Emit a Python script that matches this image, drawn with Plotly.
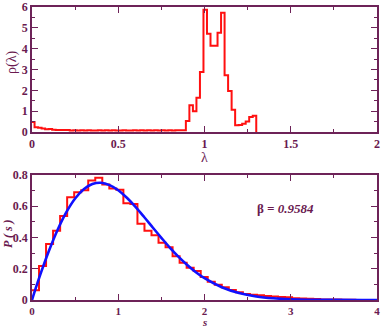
import numpy as np
import plotly.graph_objects as go

# ---------------- data ----------------
# top panel: density of eigenvalues rho(lambda), histogram
lam_first_edge = -0.0056
lam_bin_width = 0.0204
rho_values = [
    0.48, 0.23, 0.21, 0.17, 0.13, 0.14, 0.11, 0.10, 0.10, 0.10,
    0.10, 0.07, 0.09, 0.07, 0.09, 0.07, 0.08, 0.07, 0.07, 0.08,
    0.07, 0.08, 0.07, 0.09, 0.07, 0.07, 0.08, 0.07, 0.07, 0.09,
    0.07, 0.08, 0.07, 0.09, 0.07, 0.08, 0.07, 0.09, 0.07, 0.08,
    0.07, 0.08, 0.08, 0.08,
    0.53, 1.28, 1.00, 1.65, 2.88,
    5.87, 4.72, 4.14, 4.14, 4.77, 5.73, 2.72, 1.97, 1.07,
    0.33, 0.34, 0.40, 0.50, 0.72, 0.78,
]

# bottom panel: nearest-neighbour spacing distribution P(s), histogram
s_bin_width = 0.0815
ps_values = [
    0.062, 0.218, 0.358, 0.443, 0.538, 0.658, 0.690, 0.702, 0.765, 0.782,
    0.740, 0.713, 0.705, 0.620, 0.615, 0.488, 0.444, 0.415, 0.366, 0.337,
    0.280, 0.239, 0.207, 0.186, 0.148, 0.117, 0.097, 0.081, 0.064, 0.050,
    0.039, 0.034, 0.030, 0.025, 0.022, 0.020, 0.018, 0.012, 0.010, 0.008,
    0.006, 0.004, 0.004, 0.003, 0.002, 0.001, 0.0005, 0.0003, 0.0,
]

# Brody fit curve (beta = 0.9584)
fit_s = [0.0, 0.05, 0.1, 0.2, 0.3, 0.4, 0.5, 0.6, 0.7, 0.8, 0.9, 1.0,
         1.1, 1.2, 1.3, 1.4, 1.5, 1.6, 1.7, 1.8, 1.9, 2.0, 2.2, 2.4,
         2.6, 2.8, 3.0, 3.5, 4.0]
fit_p = [0.0, 0.087, 0.169, 0.320, 0.453, 0.564, 0.650, 0.709, 0.742,
         0.750, 0.735, 0.702, 0.654, 0.596, 0.531, 0.464, 0.398, 0.334,
         0.276, 0.224, 0.178, 0.140, 0.082, 0.045, 0.023, 0.011, 0.005,
         0.0006, 0.00004]

beta_label = "0.9584"

# ---------------- styling ----------------
AX = "#6d2358"
TXT = "#6a1a50"
SERIF = "Liberation Serif, Times New Roman, serif"


def step_xy(first_edge, width, values):
    n = len(values)
    edges = first_edge + width * np.arange(n + 1)
    edges = np.clip(edges, 0, None)
    xs = list(edges[:-1]) + [edges[-1], edges[-1]]
    ys = list(values) + [values[-1], 0.0]
    return xs, ys


fig = go.Figure()

lx, ly = step_xy(lam_first_edge, lam_bin_width, rho_values)
fig.add_trace(go.Scatter(x=lx, y=ly, mode="lines", line=dict(color="#ff1010", width=2, shape="hv"),
                         xaxis="x", yaxis="y", showlegend=False, hoverinfo="skip"))

sx, sy = step_xy(0.0, s_bin_width, ps_values)
fig.add_trace(go.Scatter(x=sx, y=sy, mode="lines", line=dict(color="#ff1010", width=2, shape="hv"),
                         xaxis="x2", yaxis="y2", showlegend=False, hoverinfo="skip"))

fig.add_trace(go.Scatter(x=fit_s, y=fit_p, mode="lines", line=dict(color="#1010ff", width=2.6, shape="spline"),
                         xaxis="x2", yaxis="y2", showlegend=False, hoverinfo="skip"))


def axis(rng, dtick, minor_dtick, domain, anchor, fsize=12, **kw):
    d = dict(
        range=rng, domain=domain, anchor=anchor, dtick=dtick, tick0=0,
        ticks="inside", ticklen=6, tickwidth=1, tickcolor=AX,
        minor=dict(dtick=minor_dtick, tick0=0, ticks="inside", ticklen=3, tickwidth=1, tickcolor=AX),
        showline=True, linecolor=AX, linewidth=1.6, mirror="allticks",
        showgrid=False, zeroline=False, automargin=False, ticklabeloverflow="allow",
        tickfont=dict(family=SERIF, size=fsize, color=TXT, weight="bold"),
    )
    d.update(kw)
    return d


top_dom = [(300 - 132) / 293, 1.0]
bot_dom = [0.0, (300 - 175) / 293]

fig.update_layout(
    width=382, height=327,
    margin=dict(l=32, r=5, t=7, b=27),
    paper_bgcolor="white", plot_bgcolor="white",
    xaxis=axis([0, 2], 0.5, 0.25, [0, 1], "y", tickvals=[0, 0.5, 1, 1.5, 2], ticktext=["0", "0.5", "1", "1.5", "2"]),
    yaxis=axis([0, 6], 1, 0.5, top_dom, "x"),
    xaxis2=axis([0, 4], 1, 0.5, [0, 1], "y2", fsize=11),
    yaxis2=axis([0, 0.8], 0.2, 0.1, bot_dom, "x2", tickvals=[0, 0.2, 0.4, 0.6, 0.8], ticktext=["0", "0.2", "0.4", "0.6", "0.8"]),
)


def px_y(p):
    return (300 - p) / 293


def px_x(p):
    return (p - 32) / 345


annotations = [
    dict(text="λ", x=px_x(204), y=px_y(157), xref="paper", yref="paper", showarrow=False,
         font=dict(family=SERIF, size=14, color=TXT), xanchor="center", yanchor="middle"),
    dict(text="ρ(λ)", x=px_x(12), y=px_y(63), xref="paper", yref="paper", showarrow=False, textangle=-90,
         font=dict(family=SERIF, size=14, color=TXT), xanchor="center", yanchor="middle"),
    dict(text="<b><i>s</i></b>", x=px_x(204), y=px_y(322), xref="paper", yref="paper", showarrow=False,
         font=dict(family=SERIF, size=11, color=TXT), xanchor="center", yanchor="middle"),
    dict(text="<b><i>P ( s )</i></b>", x=px_x(8), y=px_y(234), xref="paper", yref="paper", showarrow=False, textangle=-90,
         font=dict(family=SERIF, size=12, color=TXT), xanchor="center", yanchor="middle"),
    dict(text="β <i>= " + beta_label + "</i>", x=2.59, y=0.583, xref="x2", yref="y2", showarrow=False,
         font=dict(family=SERIF, size=13, color=TXT, weight="bold"), xanchor="left", yanchor="middle"),
]
fig.update_layout(annotations=annotations)

fig.write_html("out.html", config={"displayModeBar": False},
               post_script="document.body.style.margin='0px';document.body.style.overflow='hidden';")
